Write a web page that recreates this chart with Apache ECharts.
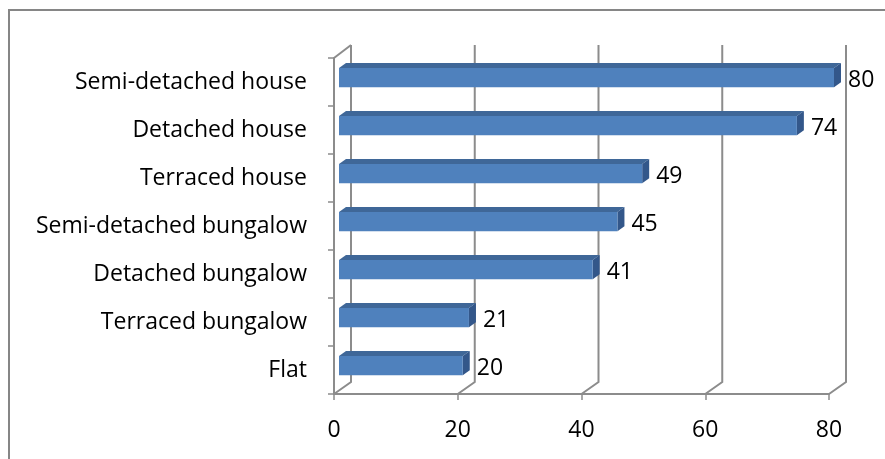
<!DOCTYPE html>
<html>
<head>
<meta charset="utf-8">
<script src="https://cdn.jsdelivr.net/npm/echarts@6/dist/echarts.min.js"></script>
<style>
html,body{margin:0;padding:0;background:#fff;}
#c{width:885px;height:459px;}
</style>
</head>
<body>
<div id="c"></div>
<script>
const categories = ['Semi-detached house','Detached house','Terraced house','Semi-detached bungalow','Detached bungalow','Terraced bungalow','Flat'];
const values = [80, 74, 49, 45, 41, 21, 20];
const xTicks = [0, 20, 40, 60, 80];

const FONT = 'Open Sans';
const FS = 23;
const GRAY = '#8c8c8c';
const DEPTH_X = 17, DEPTH_Y = -12;   // wall depth
const BAR_OFF_X = 5;                 // bar front face offset
const BAR_DX = 7, BAR_DY = -5;       // bar depth

const chart = echarts.init(document.getElementById('c'));

const barData = values.map((v, i) => [v, i]);
const frameData = xTicks.map(t => [t]);

chart.setOption({
  animation: false,
  graphic: [{
    type: 'rect',
    shape: {x: 9, y: 10, width: 900, height: 500},
    style: {fill: 'none', stroke: '#868686', lineWidth: 2},
    z: 0
  }],
  grid: {left: 334, right: 56, top: 58, bottom: 65},
  xAxis: {
    type: 'value',
    min: xTicks[0], max: xTicks[xTicks.length - 1], interval: 20,
    axisLine: {show: true, lineStyle: {color: GRAY, width: 2}},
    axisTick: {show: true, length: 6, lineStyle: {color: GRAY, width: 1.5}},
    splitLine: {show: false},
    axisLabel: {color: '#000', fontFamily: FONT, fontSize: FS, margin: 25}
  },
  yAxis: {
    type: 'category',
    inverse: true,
    data: categories,
    axisLine: {show: true, lineStyle: {color: GRAY, width: 2}},
    axisTick: {show: true, length: 6, lineStyle: {color: GRAY, width: 1.5}},
    axisLabel: {color: '#000', fontFamily: FONT, fontSize: FS, margin: 27, padding: [5, 0, 0, 0]}
  },
  series: [
    {
      type: 'custom',
      name: 'frame',
      clip: false,
      z: 1,
      data: frameData,
      encode: {x: 0},
      renderItem: function (params, api) {
        const cs = params.coordSys;
        const t = api.value(0);
        const px = api.coord([t, 0])[0];
        const bottom = cs.y + cs.height;
        const top = cs.y;
        const children = [{
          type: 'polyline',
          shape: {points: [[px, bottom], [px + DEPTH_X, bottom + DEPTH_Y], [px + DEPTH_X, top + DEPTH_Y - 1]]},
          style: {stroke: GRAY, lineWidth: 2, fill: 'none'}
        }];
        if (params.dataIndex === 0) {
          children.push({
            type: 'line',
            shape: {x1: cs.x, y1: top, x2: cs.x + DEPTH_X, y2: top + DEPTH_Y - 1},
            style: {stroke: GRAY, lineWidth: 2}
          });
        }
        return {type: 'group', children: children};
      }
    },
    {
      type: 'custom',
      name: 'bars',
      clip: false,
      z: 2,
      data: barData,
      encode: {x: 0, y: 1},
      renderItem: function (params, api) {
        const v = api.value(0), c = api.value(1);
        const p0 = api.coord([0, c]);
        const p1 = api.coord([v, c]);
        const band = api.size([0, 1])[1];
        const yt = p0[1] - band * 0.29;
        const h = band * 0.40;
        const yb = yt + h;
        const x0 = p0[0] + BAR_OFF_X;
        const x1 = p1[0] + BAR_OFF_X;
        return {
          type: 'group',
          children: [
            {type: 'polygon', shape: {points: [[x0, yt], [x1, yt], [x1 + BAR_DX, yt + BAR_DY], [x0 + BAR_DX, yt + BAR_DY]]},
              style: {fill: '#3f6798'}},
            {type: 'polygon', shape: {points: [[x1, yt], [x1 + BAR_DX, yt + BAR_DY], [x1 + BAR_DX, yb + BAR_DY], [x1, yb]]},
              style: {fill: '#33578a'}},
            {type: 'rect', shape: {x: x0, y: yt, width: x1 - x0, height: h},
              style: {fill: '#4f81bd'}},
            {type: 'text', style: {text: String(v), x: x1 + BAR_DX + 7, y: yt + h / 2 + 3,
              verticalAlign: 'middle', align: 'left', fill: '#000', font: FS + 'px "' + FONT + '"'}}
          ]
        };
      }
    }
  ]
});
</script>
</body>
</html>
